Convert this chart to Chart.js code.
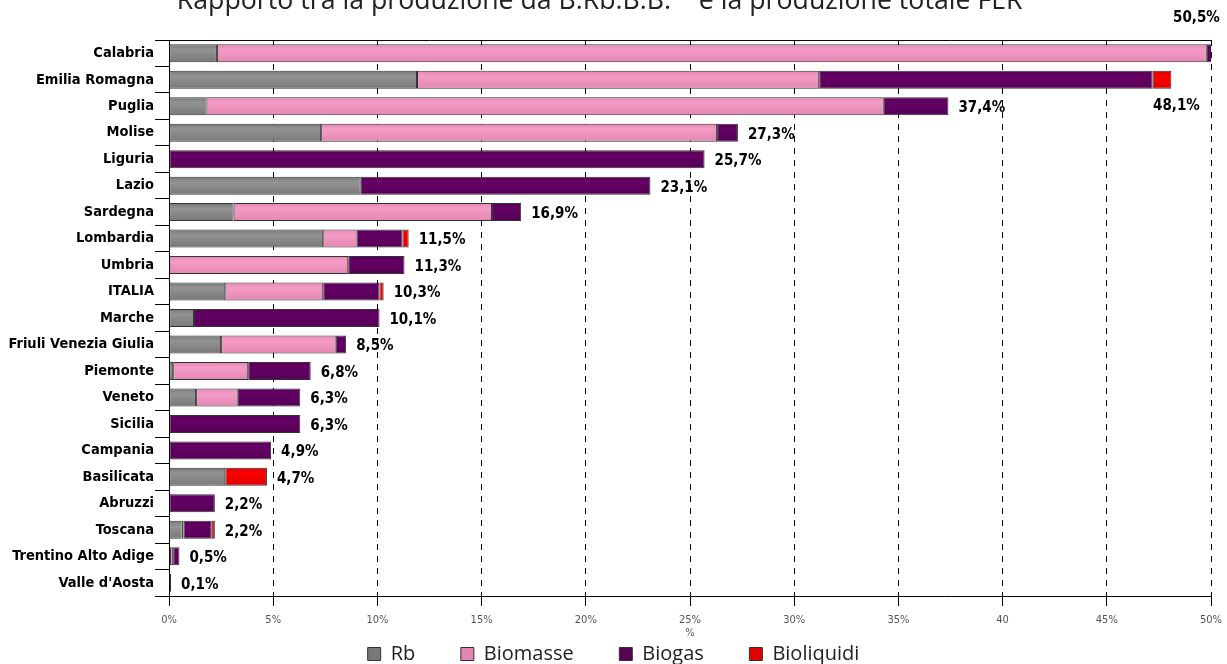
<!DOCTYPE html>
<html>
<head>
<meta charset="utf-8">
<script src="https://cdn.jsdelivr.net/npm/chart.js@4.4.1/dist/chart.umd.min.js"></script>
<style>
html, body { margin: 0; padding: 0; background: #fff; overflow: hidden; }
#wrap { position: absolute; left: 0; top: -14px; width: 1227px; height: 688px; }
</style>
</head>
<body>
<div id="wrap"><canvas id="chart" width="1227" height="688"></canvas></div>
<script>
// regioni, dall'alto verso il basso
const regions = ["Calabria", "Emilia Romagna", "Puglia", "Molise", "Liguria", "Lazio", "Sardegna",
    "Lombardia", "Umbria", "ITALIA", "Marche", "Friuli Venezia Giulia", "Piemonte", "Veneto",
    "Sicilia", "Campania", "Basilicata", "Abruzzi", "Toscana", "Trentino Alto Adige", "Valle d'Aosta"];

// valori in %
const rb         = [2.3, 11.9, 1.8, 7.3, null, 9.2, 3.1, 7.4, null, 2.7, 1.2, 2.5, 0.2, 1.3, null, null, 2.7, null, 0.6, 0.05, null];
const biomasse   = [47.5, 19.3, 32.5, 19.0, null, null, 12.4, 1.6, 8.6, 4.7, null, 5.5, 3.6, 2.0, null, null, null, null, 0.1, 0.15, null];
const biogas     = [0.7, 16.0, 3.1, 1.0, 25.7, 13.9, 1.4, 2.2, 2.7, 2.7, 8.9, 0.5, 3.0, 3.0, 6.3, 4.9, null, 2.2, 1.35, 0.3, 0.1];
const bioliquidi = [null, 0.9, null, null, null, null, null, 0.3, null, 0.2, null, null, null, null, null, null, 2.0, null, 0.15, null, null];
const totals     = [50.5, 48.1, 37.4, 27.3, 25.7, 23.1, 16.9, 11.5, 11.3, 10.3, 10.1, 8.5, 6.8, 6.3, 6.3, 4.9, 4.7, 2.2, 2.2, 0.5, 0.1];

const xTickLabels = ["0%", "5%", "10%", "15%", "20%", "25%", "30%", "35%", "40", "45%", "50%"];

const BAR_PCT = 0.68;

// etichette dei totali accanto alle barre
const totalLabels = {
    id: "totalLabels",
    afterDatasetsDraw(chart) {
        const ctx = chart.ctx, x = chart.scales.x, y = chart.scales.y;
        ctx.save();
        ctx.font = 'bold 15px "DejaVu Sans Condensed"';
        ctx.fillStyle = "#000";
        ctx.textAlign = "left";
        ctx.textBaseline = "middle";
        totals.forEach((t, i) => {
            let px = x.getPixelForValue(Math.min(t, 50)) + 10;
            let py = y.getPixelForValue(i) + 2;
            if (i === 0) { px = x.right - 38; py = chart.chartArea.top - 22; }
            if (i === 1) { px = x.right - 58; py = y.getPixelForValue(2); }
            ctx.fillText(t.toFixed(1).replace(".", ",") + "%", px, py);
        });
        ctx.restore();
    }
};

// linea superiore dell'area del grafico
const topLine = {
    id: "topLine",
    beforeDatasetsDraw(chart) {
        const { ctx, chartArea } = chart;
        ctx.save();
        ctx.strokeStyle = "#000";
        ctx.lineWidth = 1;
        ctx.beginPath();
        ctx.moveTo(chartArea.left, chartArea.top + 0.5);
        ctx.lineTo(chartArea.right, chartArea.top + 0.5);
        ctx.stroke();
        ctx.restore();
    }
};

// leggera sfumatura verticale come nell'originale
const shade = (base, edge) => (c) => {
    if (c.dataIndex === undefined || !c.chart.scales.y) return base;
    const y = c.chart.scales.y;
    const yc = y.getPixelForValue(c.dataIndex);
    const h = (y.height / regions.length) * BAR_PCT;
    if (!isFinite(yc) || !isFinite(h)) return base;
    const g = c.chart.ctx.createLinearGradient(0, yc - h / 2, 0, yc + h / 2);
    g.addColorStop(0, edge);
    g.addColorStop(0.3, base);
    g.addColorStop(1, edge);
    return g;
};

const seg = (label, data, base, edge) => ({
    label, data,
    backgroundColor: shade(base, edge),
    borderColor: "#333",
    borderWidth: 1,
    borderSkipped: false,
    barPercentage: BAR_PCT,
    categoryPercentage: 1
});

new Chart(document.getElementById("chart").getContext("2d"), {
    type: "bar",
    data: {
        labels: regions,
        datasets: [
            seg("Rb", rb, "#939393", "#787878"),
            seg("Biomasse", biomasse, "#f59bc5", "#e187b1"),
            seg("Biogas", biogas, "#650065", "#560056"),
            seg("Bioliquidi", bioliquidi, "#ff0000", "#e00000")
        ]
    },
    options: {
        responsive: false,
        animation: false,
        devicePixelRatio: 1,
        indexAxis: "y",
        layout: { padding: { left: 0, right: 0, top: 0, bottom: 0 } },
        plugins: {
            title: {
                display: true,
                text: "Rapporto tra la produzione da B.Rb.B.B.    e la produzione totale FER    ",
                font: { family: "Open Sans", size: 26.7, weight: "normal" },
                color: "#222",
                padding: { top: -1, bottom: 23 }
            },
            legend: {
                position: "bottom",
                labels: {
                    boxWidth: 13, boxHeight: 13, padding: 4,
                    font: { family: "Open Sans", size: 20 },
                    color: "#222",
                    generateLabels(chart) {
                        const items = Chart.defaults.plugins.legend.labels.generateLabels(chart);
                        items.forEach((it, i) => { if (i < items.length - 1) it.text += "        "; });
                        return items;
                    }
                }
            },
            tooltip: { enabled: false }
        },
        scales: {
            x: {
                stacked: true,
                min: 0, max: 50,
                afterFit(s) { s.height = 44; s.paddingRight = 16; },
                ticks: {
                    stepSize: 5,
                    callback: (v) => xTickLabels[Math.round(v / 5)],
                    font: { family: "DejaVu Sans Condensed", size: 11 },
                    color: "#555",
                    padding: 8
                },
                grid: { color: "#000", lineWidth: 1, tickLength: 10 },
                border: { display: true, color: "#000", dash: [6, 6] },
                title: {
                    display: true, text: "%",
                    font: { family: "DejaVu Sans Condensed", size: 11 },
                    color: "#555", padding: 0
                }
            },
            y: {
                stacked: true,
                afterFit(s) { s.width = 169; },
                ticks: {
                    font: { family: "DejaVu Sans Condensed", size: 14.5, weight: "bold" },
                    color: "#000",
                    padding: 1
                },
                grid: { offset: true, drawOnChartArea: false, color: "#000", tickLength: 14 },
                border: { color: "#000" }
            }
        }
    },
    plugins: [totalLabels, topLine]
});
</script>
</body>
</html>
